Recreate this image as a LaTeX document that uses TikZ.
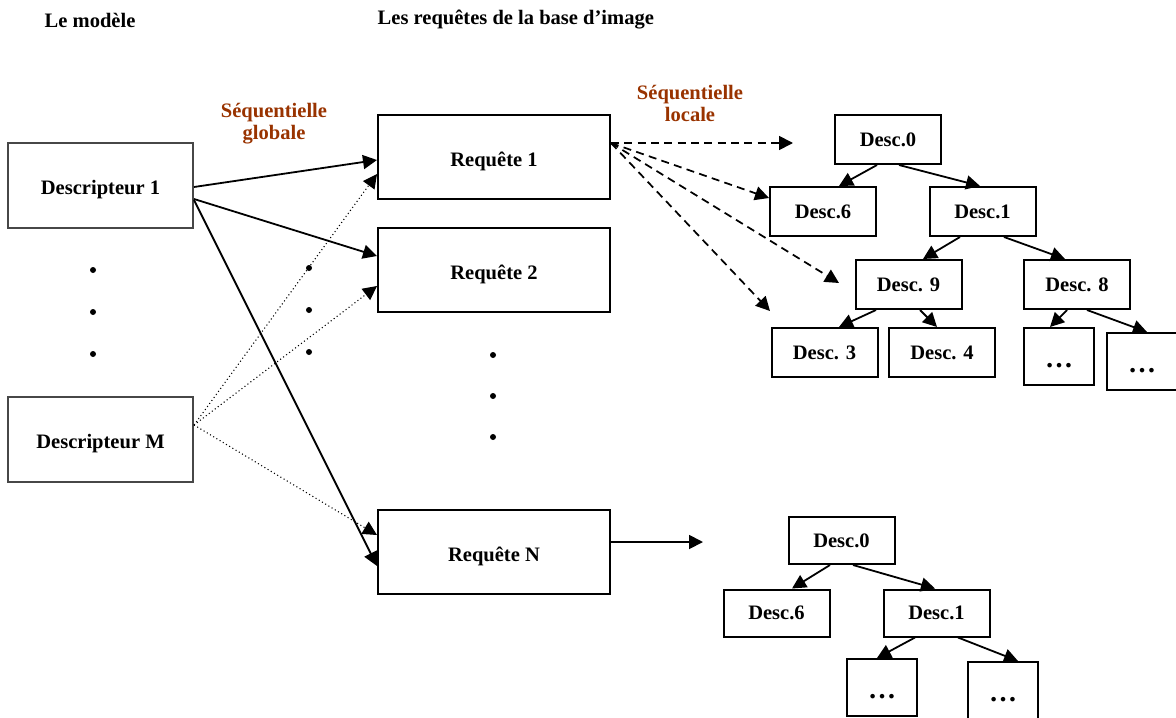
\documentclass[tikz,border=0pt]{standalone}
\usepackage{fontspec}
\setmainfont{Liberation Serif}
\usetikzlibrary{calc,arrows.meta}
\definecolor{seqbrown}{RGB}{153,51,0}
\begin{document}
\begin{tikzpicture}[x=0.75pt,y=-0.75pt,
  font=\fontsize{15.4}{18}\selectfont\bfseries,
  model/.style={draw=black!72,line width=1.5pt,inner sep=0pt,minimum width=138.75pt,minimum height=63.75pt,text height=14pt,text depth=0pt},
  query/.style={draw,line width=1.5pt,inner sep=0pt,minimum width=174pt,minimum height=63pt,text height=13.5pt,text depth=0pt},
  desc/.style={draw,line width=1.5pt,inner sep=0pt,minimum width=79.5pt,minimum height=36.75pt},
  more/.style={draw,line width=1.5pt,inner sep=0pt,minimum width=52.5pt,minimum height=42.75pt,
    font=\fontsize{21}{21}\selectfont\bfseries,text height=16pt,text depth=0pt},
  tip/.style={-{Triangle[length=10.5pt,width=10.5pt]}},
  link/.style={tip,line width=1.35pt},
  loose/.style={tip,line width=0.8pt,dotted},
  seq/.style={tip,line width=1.3pt,dash pattern=on 6pt off 4pt},
  bigdot/.style={circle,fill,inner sep=0pt,minimum size=4.5pt},
  label/.style={text=seqbrown,align=center,font=\fontsize{15.4}{16.5}\selectfont\bfseries}]
\clip (0,0) rectangle (1176,717);
\useasboundingbox (0,0) rectangle (1176,717);

% column headings
\node[anchor=west] (hmodel) at (40,20) {Le modèle};
\node[anchor=west] (hquery) at (373,20) {Les requêtes de la base d’image};

% model descriptors
\node[model] (d1) at (100.5,185.5) {Descripteur 1};
\node[model] (dM) at (100.5,439.5) {Descripteur M};
\foreach \y [count=\i] in {270,312,354} \node[bigdot] (ld\i) at (93,\y) {};

% image base queries
\node[query] (r1) at (494,157) {Requête 1};
\node[query] (r2) at (494,270) {Requête 2};
\node[query] (rN) at (494,552) {Requête N};
\foreach \y [count=\i] in {355,396,437} \node[bigdot] (md\i) at (493,\y) {};
\foreach \y [count=\i] in {268,310,352} \node[bigdot] (cd\i) at (309,\y) {};

% labels
\node[label] (lglob) at (274,124) {Séquentielle\\globale};
\node[label] (lloc) at (690,103) {Séquentielle\\locale};

% global sequential search
\draw[link] ($(d1.east)+(0,1.5)$) -- ($(r1.west)+(0,3)$);
\draw[link] ($(d1.east)+(0,13.5)$) -- ($(r2.west)+(0,-14)$);
\draw[link] ($(d1.east)+(0,14.5)$) -- ($(rN.west)+(0,14)$);
\draw[loose] ($(dM.east)+(0,-14.5)$) -- ($(r1.west)+(0,17)$);
\draw[loose] ($(dM.east)+(0,-14.5)$) -- ($(r2.west)+(0,16)$);
\draw[loose] ($(dM.east)+(0,-14.5)$) -- ($(rN.west)+(0,-17)$);

% first descriptor tree
\node[desc] (a0) at (888,139.5) {Desc.0};
\node[desc] (a6) at (823,211.5) {Desc.6};
\node[desc] (a1) at (982.5,211.5) {Desc.1};
\node[desc] (a9) at (908.5,284.5) {Desc. 9};
\node[desc] (a8) at (1077,284.5) {Desc. 8};
\node[desc] (a3) at (824.5,352.5) {Desc. 3};
\node[desc] (a4) at (942,352.5) {Desc. 4};
\node[more] (ae1) at (1059,356.5) {…};
\node[more] (ae2) at (1142,361.5) {…};
\draw[link] ($(a0.south)+(-11,0)$) -- ($(a6.north)+(16,0)$);
\draw[link] ($(a0.south)+(11,0)$) -- ($(a1.north)+(-2.5,0)$);
\draw[link] ($(a1.south)+(-22.5,0)$) -- ($(a9.north)+(14.5,0)$);
\draw[link] ($(a1.south)+(21.5,0)$) -- ($(a8.north)+(-12,0)$);
\draw[link] ($(a9.south)+(-32.5,0)$) -- ($(a3.north)+(14.5,0)$);
\draw[link] ($(a9.south)+(11.5,0)$) -- ($(a4.north)+(-5,0)$);
\draw[link] ($(a8.south)+(-10,0)$) -- ($(ae1.north)+(-9,0)$);
\draw[link] ($(a8.south)+(10,0)$) -- ($(ae2.north)+(5,0)$);

% local sequential search
\coordinate (s1) at (793,143);
\coordinate (s3) at (839,283);
\coordinate (s4) at (770,311);
\draw[seq] ($(r1.east)+(0,-14)$) -- (s1);
\draw[seq] ($(r1.east)+(0,-14)$) -- ($(a6.west)+(0,-13.5)$);
\draw[seq] ($(r1.east)+(0,-14)$) -- (s3);
\draw[seq] ($(r1.east)+(0,-14)$) -- (s4);

% second descriptor tree
\coordinate (nEnd) at (703,542);
\draw[link] ($(rN.east)+(0,-10)$) -- (nEnd);
\node[desc,minimum height=35.25pt] (b0) at (841.5,540.5) {Desc.0};
\node[desc,minimum height=35.25pt] (b6) at (776.5,613) {Desc.6};
\node[desc,minimum height=35.25pt] (b1) at (936.5,613) {Desc.1};
\node[more] (be1) at (882,687.5) {…};
\node[more] (be2) at (1003,690.5) {…};
\draw[link] ($(b0.south)+(-11.5,0)$) -- ($(b6.north)+(15.5,0)$);
\draw[link] ($(b0.south)+(11.5,0)$) -- ($(b1.north)+(-1.5,0)$);
\draw[link] ($(b1.south)+(-21.5,0)$) -- ($(be1.north)+(-5,0)$);
\draw[link] ($(b1.south)+(21.5,0)$) -- ($(be2.north)+(15,0)$);
\end{tikzpicture}
\end{document}
